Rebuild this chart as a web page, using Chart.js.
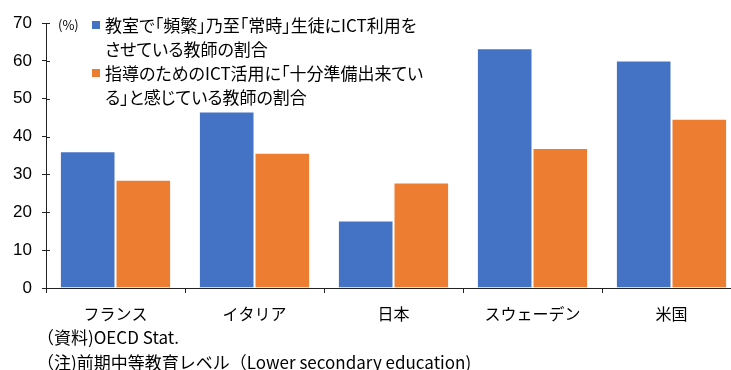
<!DOCTYPE html>
<html lang="ja">
<head>
<meta charset="utf-8">
<script src="https://cdn.jsdelivr.net/npm/chart.js@4.4.1/dist/chart.umd.min.js"></script>
<style>
  html, body { margin: 0; padding: 0; background: #fff; overflow: hidden; }
  #wrap { position: relative; width: 731px; height: 370px; overflow: hidden; }
  #myBarChart { position: absolute; left: 0; top: 0; }
  .jp {
    position: absolute;
    white-space: nowrap;
    color: #000;
    font-family: "Noto Sans CJK JP", sans-serif;
  }
  #unit { left: 58px; top: 15px; font-size: 13px; line-height: 20px; font-feature-settings: "palt"; }
  #legend { left: 92px; top: 13px; font-size: 17px; line-height: 24px; font-feature-settings: "palt"; }
  .item { position: relative; padding-left: 13px; }
  .box { position: absolute; left: 0; top: 8px; width: 8px; height: 8px; }
  #notes { left: 37px; top: 324px; font-size: 17px; line-height: 25px; }
</style>
</head>
<body>
<div id="wrap">
  <canvas id="myBarChart" width="745" height="370"></canvas>
  <div id="unit" class="jp">(%)</div>
  <div id="legend" class="jp"></div>
  <div id="notes" class="jp"></div>
</div>
<script>
const categories = ['フランス', 'イタリア', '日本', 'スウェーデン', '米国'];
const frequentUse = [36.1, 46.6, 17.8, 63.3, 60.1];
const wellPrepared = [28.6, 35.7, 27.9, 37.0, 44.7];

const seriesLines = [
    ['教室で「頻繁」乃至「常時」生徒にICT利用を', 'させている教師の割合'],
    ['指導のためのICT活用に「十分準備出来てい', 'る」と感じている教師の割合']
];
const seriesColors = ['#4472C4', '#ED7D31'];
const noteLines = ['（資料)OECD Stat.', '（注)前期中等教育レベル（Lower secondary education)'];

const axisColor = '#222';

// small inward tick marks on the value axis
const innerTicks = {
    id: 'innerTicks',
    afterDraw(chart) {
        const y = chart.scales.y;
        const c = chart.ctx;
        c.save();
        c.strokeStyle = axisColor;
        c.lineWidth = 1;
        y.ticks.forEach(t => {
            const py = Math.round(y.getPixelForValue(t.value)) + 0.5;
            c.beginPath();
            c.moveTo(chart.chartArea.left, py);
            c.lineTo(chart.chartArea.left + 4, py);
            c.stroke();
        });
        c.restore();
    }
};

const ctx = document.getElementById('myBarChart').getContext('2d');
const myBarChart = new Chart(ctx, {
    type: 'bar',
    data: {
        labels: categories,
        datasets: [{
            label: seriesLines[0].join(''),
            data: frequentUse,
            backgroundColor: seriesColors[0],
            borderColor: 'rgba(255,255,255,0.45)',
            borderWidth: 1
        }, {
            label: seriesLines[1].join(''),
            data: wellPrepared,
            backgroundColor: seriesColors[1],
            borderColor: 'rgba(255,255,255,0.45)',
            borderWidth: 1
        }]
    },
    options: {
        responsive: false,
        animation: false,
        layout: { padding: { top: 23, right: 4, left: 0, bottom: 0 } },
        plugins: {
            legend: { display: false },
            tooltip: { enabled: false }
        },
        datasets: {
            bar: { categoryPercentage: 0.8, barPercentage: 1.0 }
        },
        scales: {
            x: {
                grid: { drawOnChartArea: false, drawTicks: true, tickLength: 5, color: axisColor },
                border: { color: axisColor },
                ticks: {
                    color: '#000',
                    padding: 11,
                    font: { family: '"Noto Sans CJK JP", sans-serif', size: 16 }
                },
                afterFit: s => { s.height = 82; }
            },
            y: {
                min: 0,
                max: 70,
                grid: { drawOnChartArea: false, drawTicks: true, tickLength: 4, color: axisColor },
                border: { color: axisColor },
                ticks: {
                    stepSize: 10,
                    color: '#000',
                    padding: 10,
                    font: { family: '"Liberation Sans", Arial, sans-serif', size: 17 }
                },
                afterFit: s => { s.width = 46; }
            }
        }
    },
    plugins: [innerTicks]
});

document.getElementById('legend').innerHTML = seriesLines.map((lines, i) =>
    '<div class="item"><span class="box" style="background:' + seriesColors[i] + '"></span>' +
    lines.join('<br>') + '</div>'
).join('');

document.getElementById('notes').innerHTML = noteLines.join('<br>');
</script>
</body>
</html>
